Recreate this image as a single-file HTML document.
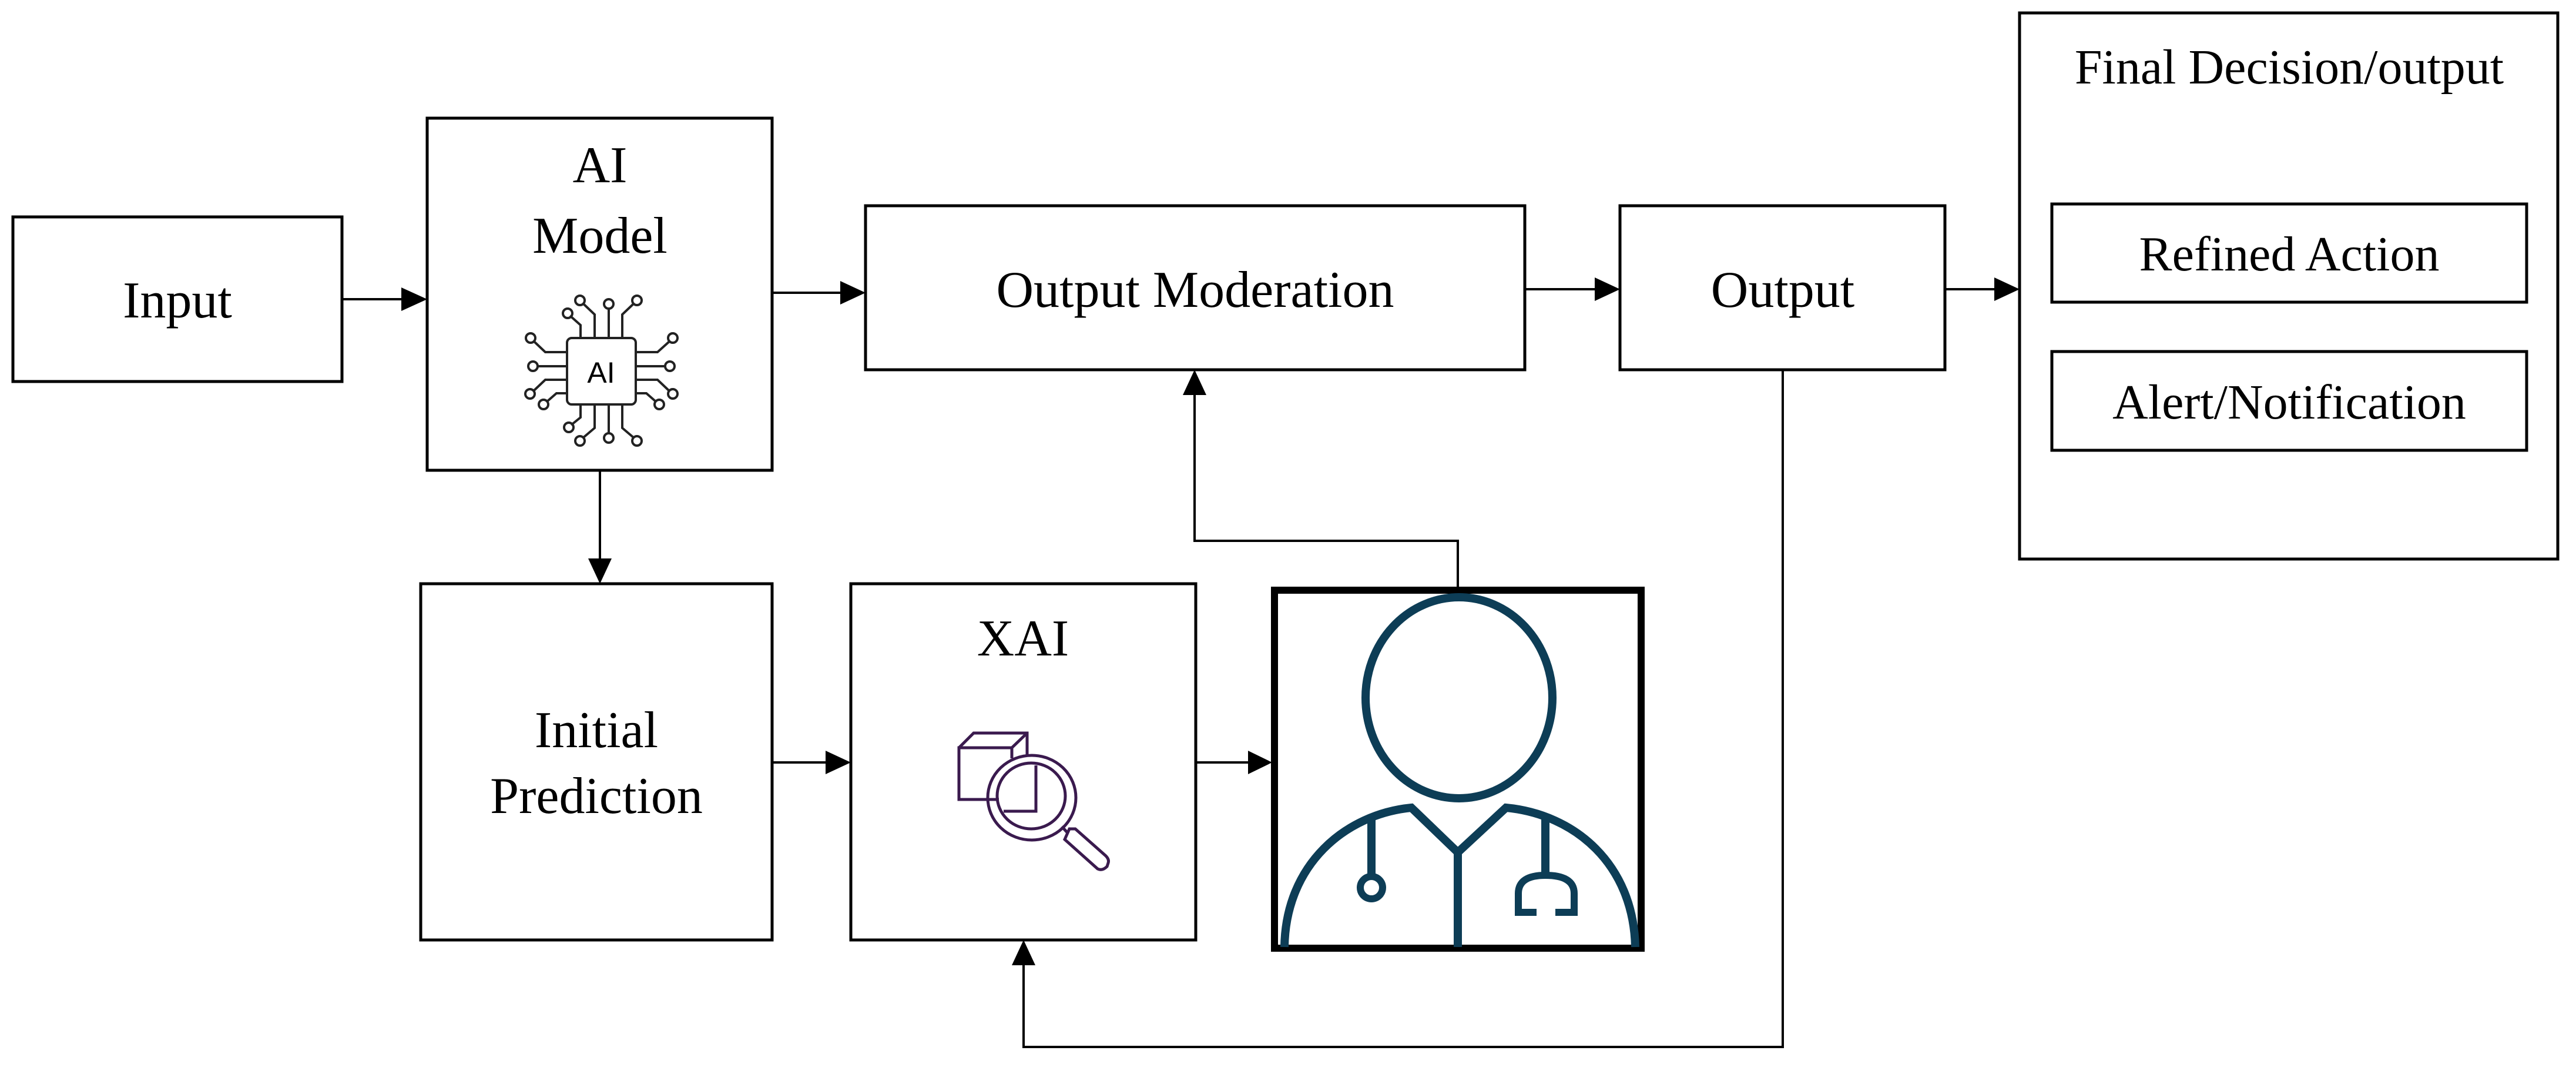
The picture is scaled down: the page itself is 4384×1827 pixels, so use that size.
<!DOCTYPE html>
<html><head><meta charset="utf-8"><style>
html,body{margin:0;padding:0;background:#fff;}
svg{display:block;}
text{font-family:"Liberation Serif",serif;fill:#000;}
</style></head><body>
<svg width="4384" height="1827" viewBox="0 0 4384 1827" xmlns="http://www.w3.org/2000/svg">
<g fill="none" stroke="#000" stroke-width="5">
<rect x="22" y="369" width="560" height="280"/>
<rect x="727" y="201" width="587" height="599"/>
<rect x="1473" y="350" width="1122" height="279"/>
<rect x="2757" y="350" width="553" height="279"/>
<rect x="3437" y="22" width="916" height="929"/>
<rect x="3492" y="347" width="808" height="167"/>
<rect x="3492" y="598" width="808" height="168"/>
<rect x="716" y="993" width="598" height="606"/>
<rect x="1448" y="993" width="587" height="606"/>
<rect x="2169" y="1004" width="624" height="609" stroke-width="12"/>
</g>
<g fill="none" stroke="#000" stroke-width="4">
<line x1="582" y1="509" x2="683" y2="509"/>
<line x1="1314" y1="498" x2="1430" y2="498"/>
<line x1="2595" y1="492" x2="2714" y2="492"/>
<line x1="3310" y1="492" x2="3394" y2="492"/>
<line x1="1021" y1="800" x2="1021" y2="950"/>
<line x1="1314" y1="1297" x2="1405" y2="1297"/>
<line x1="2035" y1="1297" x2="2124" y2="1297"/>
<polyline points="2481,998 2481,920 2033,920 2033,672"/>
<polyline points="3034,629 3034,1781 1742,1781 1742,1642"/>
</g>
<g fill="#000">
<path d="M683,489 L727,509 L683,529 z"/>
<path d="M1430,478 L1473,498 L1430,518 z"/>
<path d="M2714,472 L2757,492 L2714,512 z"/>
<path d="M3394,472 L3437,492 L3394,512 z"/>
<path d="M1001,950 L1021,993 L1041,950 z"/>
<path d="M1405,1277 L1448,1297 L1405,1317 z"/>
<path d="M2124,1277 L2165,1297 L2124,1317 z"/>
<path d="M2013,672 L2033,629 L2053,672 z"/>
<path d="M1722,1642 L1742,1599 L1762,1642 z"/>
</g>
<g font-size="88" text-anchor="middle">
<text x="302" y="540">Input</text>
<text x="1021" y="310">AI</text>
<text x="1021" y="430">Model</text>
<text x="2034" y="522">Output Moderation</text>
<text x="3034" y="522">Output</text>
<text x="3896" y="142" font-size="84">Final Decision/output</text>
<text x="3896" y="460" font-size="84">Refined Action</text>
<text x="3896" y="712" font-size="84">Alert/Notification</text>
<text x="1015" y="1271">Initial</text>
<text x="1015" y="1383">Prediction</text>
<text x="1741" y="1115">XAI</text>
</g>
<!-- AI chip icon -->
<g fill="none" stroke="#222" stroke-width="4">
<rect x="965" y="575" width="117" height="113" rx="8"/>
<polyline points="988,575 988,553 970,537"/><circle cx="966" cy="533" r="8"/>
<polyline points="1012,575 1012,535 992,516"/><circle cx="987" cy="511" r="8"/>
<line x1="1036" y1="575" x2="1036" y2="525"/><circle cx="1036" cy="517" r="8"/>
<polyline points="1059,575 1059,535 1079,516"/><circle cx="1084" cy="511" r="8"/>
<polyline points="988,688 988,710 972,723"/><circle cx="968" cy="727" r="8"/>
<polyline points="1012,688 1012,728 992,745"/><circle cx="987" cy="750" r="8"/>
<line x1="1036" y1="688" x2="1036" y2="737"/><circle cx="1036" cy="745" r="8"/>
<polyline points="1059,688 1059,728 1079,745"/><circle cx="1084" cy="750" r="8"/>
<polyline points="965,599 928,599 909,581"/><circle cx="903" cy="575" r="8"/>
<line x1="965" y1="623" x2="915" y2="623"/><circle cx="907" cy="623" r="8"/>
<polyline points="965,646 928,646 908,665"/><circle cx="902" cy="670" r="8"/>
<polyline points="965,669 947,669 931,683"/><circle cx="925" cy="688" r="8"/>
<polyline points="1082,599 1119,599 1139,581"/><circle cx="1145" cy="575" r="8"/>
<line x1="1082" y1="623" x2="1132" y2="623"/><circle cx="1140" cy="623" r="8"/>
<polyline points="1082,646 1119,646 1139,665"/><circle cx="1145" cy="670" r="8"/>
<polyline points="1082,669 1100,669 1116,683"/><circle cx="1122" cy="688" r="8"/>
</g>
<text x="1023" y="651" font-size="50" text-anchor="middle" style="font-family:'Liberation Sans',sans-serif">AI</text>
<!-- XAI icon -->
<g fill="none" stroke="#3a1a4e" stroke-width="5">
<polyline points="1700,1360 1632,1360 1632,1272 1722,1272 1722,1290"/>
<polyline points="1632,1272 1657,1247 1748,1247 1748,1285"/>
<line x1="1722" y1="1272" x2="1748" y2="1247"/>
<ellipse cx="1756" cy="1357" rx="75" ry="72"/>
<ellipse cx="1755" cy="1354" rx="58" ry="56"/>
<polyline points="1763,1302 1763,1380 1708,1380"/>
<path d="M1807,1406 L1818,1418"/>
<path d="M1820,1410 L1812,1428 L1868,1478 Q1876,1482 1884,1474 L1886,1468 Q1888,1462 1882,1456 L1830,1410 z"/>
</g>
<!-- doctor -->
<g fill="none" stroke="#0d3d56" stroke-width="14">
<ellipse cx="2483" cy="1187" rx="159" ry="171"/>
<path d="M2186,1611 C2188,1470 2290,1385 2402,1374 L2481,1450 L2563,1374 C2680,1385 2780,1470 2783,1611"/>
<line x1="2481" y1="1450" x2="2481" y2="1611"/>
<line x1="2334" y1="1393" x2="2334" y2="1490"/>
<circle cx="2334" cy="1510" r="19" stroke-width="12"/>
<line x1="2630" y1="1393" x2="2630" y2="1486"/>
<path d="M2615,1552 L2584,1552 L2584,1520 Q2584,1489 2630,1489 Q2679,1489 2679,1520 L2679,1552 L2647,1552" stroke-width="12"/>
</g>
</svg>
</body></html>
